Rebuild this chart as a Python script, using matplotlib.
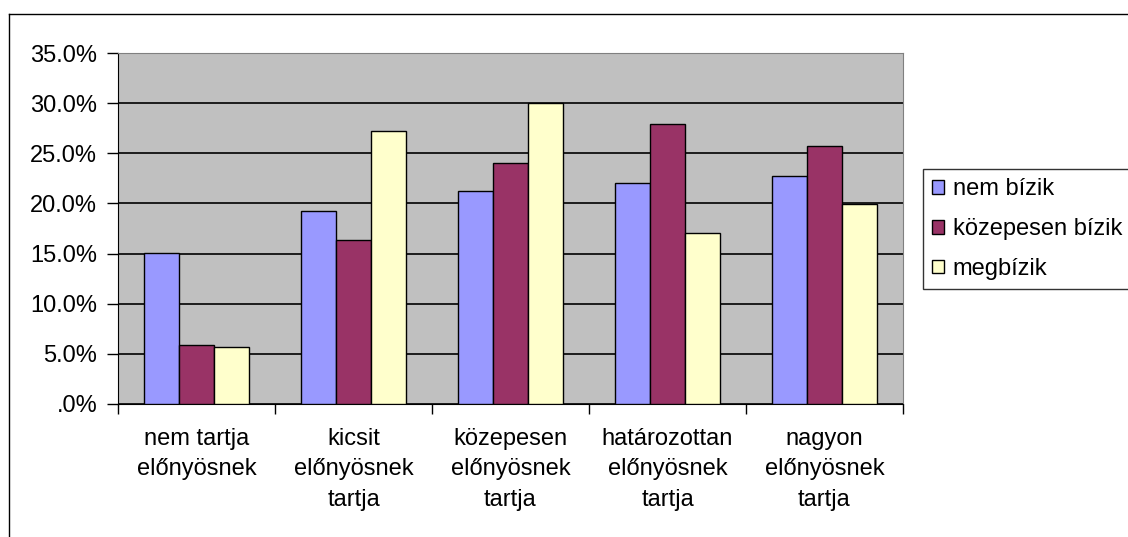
import numpy as np
import matplotlib.pyplot as plt
from matplotlib.lines import Line2D

plt.rcParams['font.family'] = ['Liberation Sans', 'DejaVu Sans']

# Data (percent)
categories = ['nem tartja\nelőnyösnek', 'kicsit\nelőnyösnek\ntartja',
              'közepesen\nelőnyösnek\ntartja', 'határozottan\nelőnyösnek\ntartja',
              'nagyon\nelőnyösnek\ntartja']
series = ['nem bízik', 'közepesen bízik', 'megbízik']
nem_bizik = [15.1, 19.2, 21.2, 22.0, 22.7]
kozepesen_bizik = [5.9, 16.4, 24.0, 27.9, 25.7]
megbizik = [5.7, 27.2, 30.0, 17.1, 19.9]
yticks = [0, 5, 10, 15, 20, 25, 30, 35]
ytick_labels = ['.0%', '5.0%', '10.0%', '15.0%', '20.0%', '25.0%', '30.0%', '35.0%']

colors = ['#9999FF', '#993366', '#FFFFCC']

fig = plt.figure(figsize=(11.28, 5.37), dpi=100)
ax = fig.add_axes([118/1128, 1 - 404/537, (903-118)/1128, (404-53)/537])
ax.set_facecolor('#C0C0C0')

x = np.arange(len(categories))
w = 0.223
for i, (vals, name) in enumerate(zip([nem_bizik, kozepesen_bizik, megbizik], series)):
    ax.bar(x + (i - 1) * w, vals, w, color=colors[i], edgecolor='black',
           linewidth=1, label=name, zorder=3)

ax.set_xlim(-0.5, len(categories) - 0.5)
ax.set_ylim(0, 35)
ax.set_yticks(yticks)
ax.set_yticklabels(ytick_labels, fontsize=17)
ax.yaxis.grid(True, color='black', linewidth=1.2)
ax.set_axisbelow(True)
ax.tick_params(axis='y', length=8, width=1, pad=7)

ax.set_xticks(x)
ax.set_xticklabels(categories, fontsize=17, linespacing=1.5)
ax.tick_params(axis='x', which='major', length=0, pad=17)
ax.set_xticks(np.arange(len(categories) + 1) - 0.5, minor=True)
ax.tick_params(axis='x', which='minor', length=7, width=1)

for s in ['top', 'right']:
    ax.spines[s].set_color('#808080')
for s in ['left', 'bottom']:
    ax.spines[s].set_color('black')

# legend (box runs off the right edge)
leg = fig.legend(loc='upper left', bbox_to_anchor=(923/1128, 1 - 169/537),
                 fontsize=17, frameon=True, fancybox=False, edgecolor='black',
                 handlelength=0.5, handleheight=0.5, handletextpad=0.35,
                 labelspacing=0.75, borderpad=0.4, borderaxespad=0)
leg.get_frame().set_linewidth(1)

# chart area border
fig.add_artist(Line2D([9/1128, 9/1128], [0, 1 - 14/537], color='black', lw=1))
fig.add_artist(Line2D([9/1128, 1], [1 - 14/537, 1 - 14/537], color='black', lw=1))

fig.savefig('out.png', dpi=100)
